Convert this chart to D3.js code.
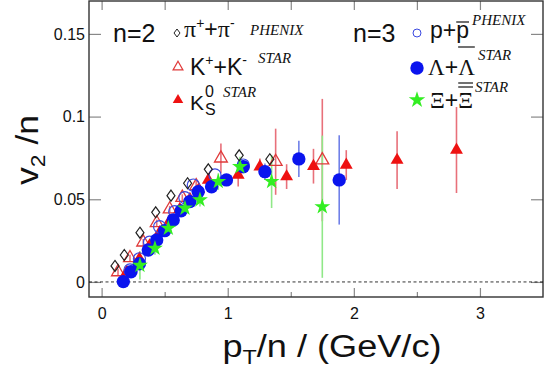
<!DOCTYPE html>
<html>
<head>
<meta charset="utf-8">
<script src="https://cdn.jsdelivr.net/npm/d3@7"></script>
<style>
  body { margin: 0; background: #fff; }
  svg { display: block; }
</style>
</head>
<body>
<script>
// each point: [pT/n, v2/n, error]
const pions = [[0.106,0.0097,0],[0.18,0.0163,0],[0.304,0.0298,0],[0.429,0.0421,0],[0.55,0.0522,0],
  [0.682,0.0597,0],[0.846,0.0681,0],[1.091,0.0766,0],[1.334,0.0742,0]]
const kaonsCh = [[0.13,0.006,0.002],[0.225,0.0145,0.002],[0.33,0.024,0.002],[0.437,0.0357,0.002],
  [0.54,0.044,0.002],[0.64,0.051,0.002],[0.75,0.058,0.003],[0.946,0.0748,0.009],[1.38,0.0727,0.02],[1.75,0.0737,0.037]]
const kaonsS = [[0.2,0.006,0.002],[0.3,0.014,0.002],[0.38,0.022,0.002],[0.46,0.03,0.002],[0.54,0.037,0.002],
  [0.62,0.044,0.002],[0.7,0.05,0.002],[0.77,0.056,0.003],[0.846,0.0617,0.003],[1.083,0.0647,0.007],
  [1.255,0.0697,0.005],[1.467,0.0637,0.0075],[1.68,0.07,0.0105],[1.94,0.0707,0.009],[2.343,0.0737,0.0175],[2.814,0.0798,0.026]]
const protons = [[0.225,0.0073,0],[0.3,0.014,0],[0.38,0.024,0],[0.46,0.0334,0],[0.58,0.0425,0],
  [0.66,0.051,0],[0.727,0.0586,0],[0.899,0.0647,0],[1.123,0.0707,0]]
const lambdas = [[0.172,0.0002,0.002],[0.233,0.0062,0.002],[0.3,0.011,0.002],[0.37,0.0193,0.002],[0.437,0.0254,0.002],
  [0.5,0.031,0.002],[0.568,0.0375,0.002],[0.63,0.043,0.002],[0.7,0.0486,0.002],[0.766,0.0546,0.003],[0.872,0.0576,0.003],
  [0.99,0.0617,0.003],[1.123,0.0697,0.004],[1.295,0.0667,0.005],[1.564,0.0744,0.011],[1.884,0.0617,0.027]]
const xis = [[0.304,0.01,0.0085],[0.423,0.0204,0.004],[0.529,0.0325,0.004],[0.661,0.0446,0.004],[0.78,0.0496,0.004],
  [0.925,0.0607,0.005],[1.097,0.0697,0.006],[1.348,0.0607,0.016],[1.75,0.0455,0.043]]

const xTicks = [0, 1, 2, 3]
const xMinor = [0.5, 1.5, 2.5]
const yTicks = [0, 0.05, 0.1, 0.15]

const W = 545, H = 371
const L = 89, R = 543, T = 1, B = 297
const RED = "#ee1111", BLUE = "#0a14ee", GREEN = "#33ee22"

const svg = d3.select("body").append("svg")
  .attr("width", W).attr("height", H)
  .style("font-family", "'Liberation Sans', Arial, sans-serif")

const x = d3.scaleLinear().domain([-0.1, 3.5]).range([L, R])
const y = d3.scaleLinear().domain([-0.0091, 0.1699]).range([B, T])

// axes, ticks inside the frame
function axis(gen, tx, ty, vals, size, pad, labels) {
  const g = svg.append("g").attr("transform", `translate(${tx},${ty})`)
    .call(gen.tickValues(vals).tickSize(size).tickPadding(pad).tickFormat(labels ? (d => d) : ""))
  g.select(".domain").remove()
  g.selectAll("line").attr("stroke", "#888").attr("stroke-width", 1.2)
  g.selectAll("text").attr("font-size", 16).attr("fill", "#111").attr("font-family", null)
}
axis(d3.axisBottom(x), 0, B, xTicks, -9, 11, true)
axis(d3.axisBottom(x), 0, B, xMinor, -5, 0, false)
axis(d3.axisTop(x), 0, T, xTicks.concat(xMinor), -9, 0, false)
axis(d3.axisLeft(y), L, 0, yTicks, -12, 4, true)
axis(d3.axisRight(y), R, 0, yTicks, -12, 0, false)

svg.append("rect").attr("x", L).attr("y", T).attr("width", R - L).attr("height", B - T)
  .attr("fill", "none").attr("stroke", "#333").attr("stroke-width", 1.4)

svg.append("line").attr("x1", x(-0.1)).attr("x2", x(3.5)).attr("y1", y(0)).attr("y2", y(0))
  .attr("stroke", "#000").attr("stroke-width", 0.8).attr("stroke-dasharray", "3,2.5")

// error bars
const series = [
  { data: kaonsCh, err: "#e8707a" }, { data: kaonsS, err: "#e8707a" },
  { data: lambdas, err: "#7080e8" }, { data: xis, err: "#90e888" }
]
series.forEach(s => {
  svg.append("g").selectAll("line").data(s.data.filter(d => d[2] > 0)).enter().append("line")
    .attr("x1", d => x(d[0])).attr("x2", d => x(d[0]))
    .attr("y1", d => y(d[1] - d[2])).attr("y2", d => y(d[1] + d[2]))
    .attr("stroke", s.err).attr("stroke-width", 1.6)
})

const diamond = "M0,-5.5L4,0L0,5.5L-4,0Z"
function marks(data, path, fill, stroke, sw) {
  svg.append("g").selectAll("path").data(data).enter().append("path")
    .attr("transform", d => `translate(${x(d[0])},${y(d[1])})`)
    .attr("d", path).attr("fill", fill).attr("stroke", stroke).attr("stroke-width", sw)
}
const tri = d3.symbol(d3.symbolTriangle, 72)()
marks(kaonsCh, tri, "none", "#e03a3a", 1.3)
marks(kaonsS, tri, RED, "none", 0)
marks(protons, d3.symbol(d3.symbolCircle, 115)(), "none", "#3a48e0", 1.2)
marks(lambdas, d3.symbol(d3.symbolCircle, 140)(), BLUE, "none", 0)
marks(xis, d3.symbol(d3.symbolStar, 78)(), GREEN, "none", 0)
marks(pions, diamond, "none", "#222", 1.2)

// axis titles
const yt = svg.append("text").attr("transform", "translate(38,150) rotate(-90)")
  .attr("text-anchor", "middle").attr("font-size", 31).attr("fill", "#111")
  .attr("textLength", 70).attr("lengthAdjust", "spacingAndGlyphs")
yt.append("tspan").text("v")
yt.append("tspan").text("2").attr("font-size", 20).attr("dy", 7)
yt.append("tspan").text(" /n").attr("dy", -7)

const xt = svg.append("text").attr("x", 332).attr("y", 357)
  .attr("text-anchor", "middle").attr("font-size", 31).attr("fill", "#111")
  .attr("textLength", 219).attr("lengthAdjust", "spacingAndGlyphs")
xt.append("tspan").text("p")
xt.append("tspan").text("T").attr("font-size", 20).attr("dy", 7)
xt.append("tspan").text("/n / (GeV/c)").attr("dy", -7)

// legend
function runs(x0, y0, list) {
  let cx = x0
  const out = []
  list.forEach(r => {
    const t = svg.append("text").attr("x", cx + (r.dx || 0)).attr("y", y0 + (r.dy || 0))
      .attr("font-size", r.fs || 23).attr("fill", "#111").text(r.t)
    if (r.serif) t.attr("font-family", "'Liberation Serif', serif")
    if (r.it) t.attr("font-style", "italic")
    const w = t.node().getComputedTextLength()
    out.push({ x: cx + (r.dx || 0), w: w })
    if (!r.stay) cx += w + (r.dx || 0)
  })
  return out
}
function tag(x0, y0, s) {
  runs(x0, y0, [{ t: s, fs: 15, serif: 1, it: 1 }])
}
function bar(r, yy) {
  svg.append("line").attr("x1", r.x).attr("x2", r.x + r.w).attr("y1", yy).attr("y2", yy)
    .attr("stroke", "#111").attr("stroke-width", 1.2)
}
function sym(cx, cy, path, fill, stroke, sw) {
  svg.append("path").attr("transform", `translate(${cx},${cy})`).attr("d", path)
    .attr("fill", fill).attr("stroke", stroke).attr("stroke-width", sw)
}

runs(113, 42, [{ t: "n=2", fs: 25 }])
sym(177, 33, "M0,-4L3,0L0,4L-3,0Z", "none", "#222", 1)
runs(184, 37, [{ t: "π", serif: 1, fs: 24 }, { t: "+", fs: 14, dy: -9 }, { t: "+" },
  { t: "π", serif: 1, fs: 24 }, { t: "-", fs: 14, dy: -9 }])
tag(250, 35, "PHENIX")

sym(178, 67, d3.symbol(d3.symbolTriangle, 42)(), "none", "#e03a3a", 1.2)
runs(190, 75, [{ t: "K" }, { t: "+", fs: 14, dy: -10 }, { t: "+" }, { t: "K" }, { t: "-", fs: 14, dy: -10 }])
tag(258, 63, "STAR")

sym(178, 100, d3.symbol(d3.symbolTriangle, 48)(), RED, "none", 0)
runs(190, 110, [{ t: "K", fs: 21 }, { t: "0", fs: 16, dy: -13, dx: 1, stay: 1 }, { t: "S", fs: 16, dy: 5, dx: 1 }])
tag(223, 97, "STAR")

runs(353, 42, [{ t: "n=3", fs: 25 }])
sym(417, 33, d3.symbol(d3.symbolCircle, 50)(), "none", "#3a48e0", 1)
const pp = runs(430, 38, [{ t: "p" }, { t: "+" }, { t: "p" }])
bar(pp[2], 22)
tag(472, 25, "PHENIX")

sym(417, 68, d3.symbol(d3.symbolCircle, 140)(), BLUE, "none", 0)
const ll = runs(428, 75, [{ t: "Λ", serif: 1, fs: 23 }, { t: "+" }, { t: "Λ", serif: 1, fs: 23 }])
bar(ll[2], 47)
tag(478, 60, "STAR")

sym(417, 100, d3.symbol(d3.symbolStar, 85)(), GREEN, "none", 0)
const xx = runs(430, 108, [{ t: "Ξ", serif: 1, fs: 23 }, { t: "+" }, { t: "Ξ", serif: 1, fs: 23 }])
bar(xx[2], 83)
bar(xx[2], 87)
tag(475, 92, "STAR")
</script>
</body>
</html>
